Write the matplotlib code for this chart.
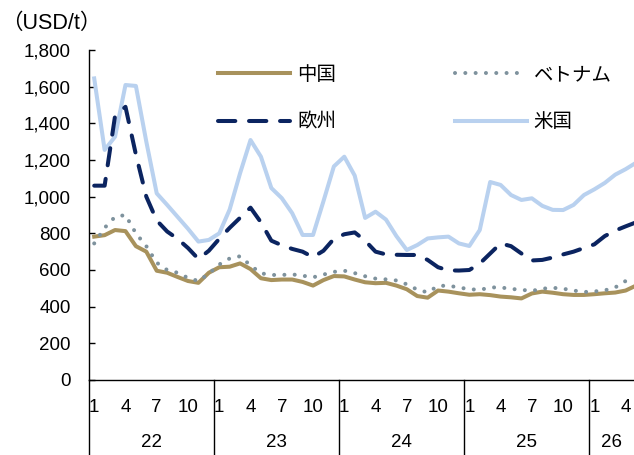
import matplotlib
matplotlib.use("Agg")
import matplotlib.pyplot as plt
import numpy as np
from matplotlib.ticker import FuncFormatter

plt.rcParams['font.family'] = ['Liberation Sans', 'Noto Sans CJK JP']

# ==========================
# DATA (monthly, Jan 2022 - May 2026, USD/t)
# ==========================
years = ['22', '23', '24', '25', '26']
month_ticks = [1, 4, 7, 10]
n_months = 53

china = [782, 790, 818, 812, 730, 700, 596, 585, 562, 540, 530, 585,
         615, 618, 636, 605, 555, 545, 548, 548, 535, 515, 545, 567,
         565, 548, 533, 528, 530, 515, 495, 458, 449, 488, 482, 473,
         465, 468, 463, 455, 451, 445, 472, 482, 476, 468, 464, 464,
         468, 473, 477, 488, 515]
vietnam = [745, 830, 890, 900, 800, 730, 640, 600, 585, 557, 540, 580,
           630, 663, 675, 625, 582, 573, 573, 576, 569, 560, 575, 590,
           596, 583, 566, 553, 549, 543, 522, 493, 478, 513, 515, 504,
           496, 491, 505, 505, 497, 492, 486, 498, 503, 498, 488, 480,
           483, 489, 505, 540, 555]
europe = [1060, 1060, 1440, 1490, 1230, 1000, 870, 810, 770, 720, 660, 705,
          770, 830, 885, 940, 860, 760, 735, 715, 700, 670, 705, 770,
          795, 805, 760, 700, 685, 683, 682, 682, 655, 615, 598, 597,
          600, 635, 690, 745, 730, 690, 652, 655, 668, 685, 700, 720,
          740, 785, 815, 838, 860]
usa = [1645, 1255, 1327, 1609, 1604, 1300, 1018, 955, 890, 825, 755, 764,
       800, 930, 1128, 1309, 1218, 1047, 992, 910, 791, 791, 975, 1165,
       1218, 1115, 884, 918, 875, 785, 709, 736, 772, 778, 782, 745,
       731, 818, 1080, 1064, 1009, 982, 991, 950, 928, 927, 955, 1009,
       1040, 1075, 1120, 1150, 1185]

# ==========================
# FIGURE
# ==========================
W, H = 634, 455
fig = plt.figure(figsize=(W / 100, H / 100), dpi=100)
ax_left, ax_bottom, ax_top = 89, 75, 405
ax = fig.add_axes([ax_left / W, ax_bottom / H, 1 - ax_left / W, (ax_top - ax_bottom) / H])

x = np.arange(n_months)
lw = 2.9
fs = 13.5

l_us, = ax.plot(x, usa, color='#B9D1EF', lw=lw, solid_joinstyle='round', label='米国')
l_eu, = ax.plot(x, europe, color='#0B2460', lw=lw, linestyle=(0, (4.3, 3.4)),
                dash_capstyle='round', label='欧州')
l_cn, = ax.plot(x, china, color='#A8925C', lw=lw, solid_joinstyle='round', label='中国')
l_vn, = ax.plot(x, vietnam, color='#7E929D', lw=lw, linestyle=(0, (0.01, 2.55)),
                dash_capstyle='round', label='ベトナム')

px_per_month = 10.42
ax.set_xlim(-0.5, -0.5 + (W - ax_left) / px_per_month)
ax.set_ylim(0, 1800)
ax.set_yticks(np.arange(0, 1801, 200))
ax.yaxis.set_major_formatter(FuncFormatter(lambda v, pos: f'{v:,.0f}'))

for side in ['top', 'right']:
    ax.spines[side].set_visible(False)
for side in ['left', 'bottom']:
    ax.spines[side].set_linewidth(1.0)
    ax.spines[side].set_color('black')

ax.tick_params(axis='y', direction='in', length=4.5, width=1.0, labelsize=fs, pad=13)

# month ticks (1, 4, 7, 10 in every year)
tick_pos, tick_lab = [], []
for yi, yr in enumerate(years):
    for m in month_ticks:
        idx = yi * 12 + m - 1
        if idx < n_months:
            tick_pos.append(idx)
            tick_lab.append(str(m))
ax.set_xticks(tick_pos)
ax.set_xticklabels(tick_lab)
ax.tick_params(axis='x', length=0, labelsize=fs, pad=13.5)

# year separators and year labels
xmax = ax.get_xlim()[1]
sep_depth = -(ax_bottom) / (ax_top - ax_bottom)
trans = ax.get_xaxis_transform()
for yi, yr in enumerate(years):
    start = yi * 12 - 0.5
    ax.plot([start, start], [0, sep_depth], color='black', lw=1.0,
            transform=trans, clip_on=False)
    end = min(start + 12, xmax)
    ax.text((start + end) / 2, -62.5 / (ax_top - ax_bottom), yr, transform=trans,
            ha='center', va='center', fontsize=fs)

# unit label
fig.text(1 / W, 1 - 23 / H, '（USD/t）', ha='left', va='center', fontsize=15.5)

# legend
leg = fig.legend(handles=[l_cn, l_eu, l_vn, l_us], ncol=2, frameon=False,
                 loc='upper left', bbox_to_anchor=(218 / W, 1 - 66 / H),
                 prop={'size': 14}, handlelength=3.7, handletextpad=0.36,
                 columnspacing=6.1, labelspacing=1.53, borderpad=0, borderaxespad=0)

fig.savefig('out.png', dpi=100)
